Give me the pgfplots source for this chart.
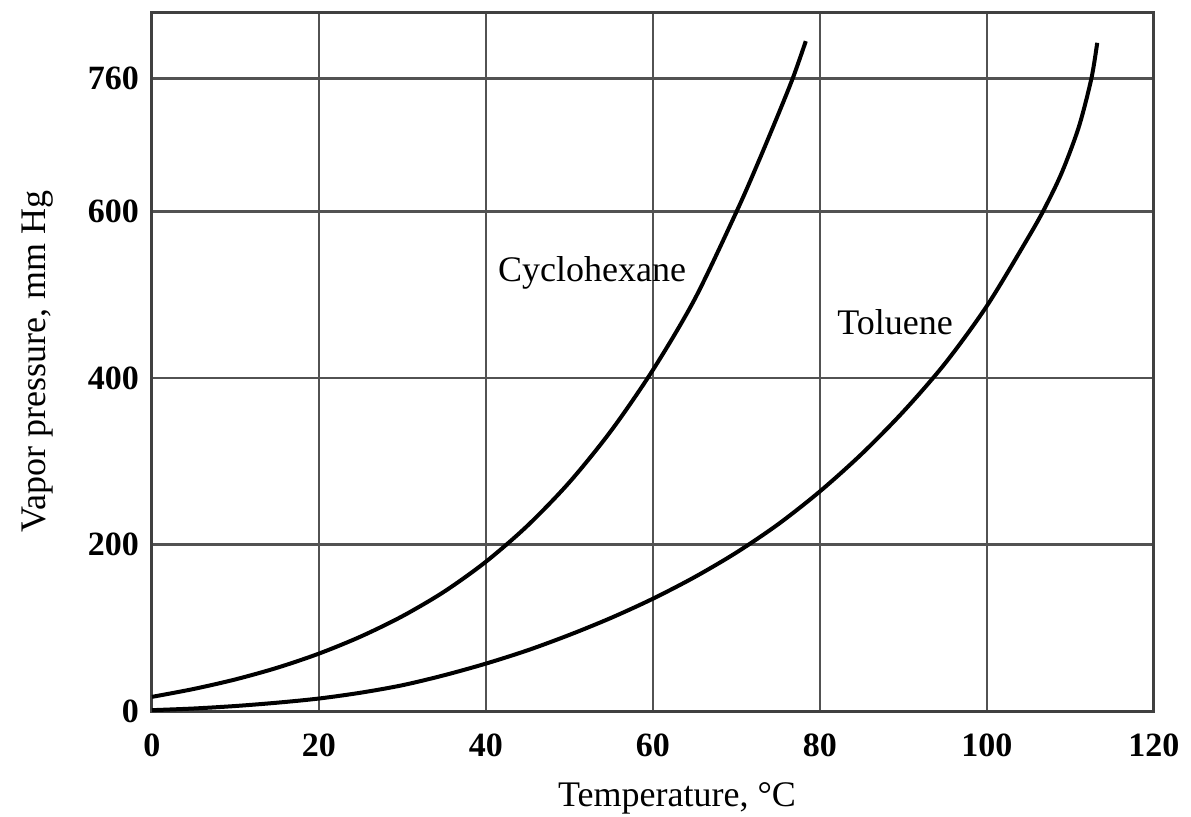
\documentclass[border=0pt]{standalone}
\usepackage{fontspec}
\setmainfont{Liberation Serif}
\usepackage{pgfplots}
\pgfplotsset{compat=1.18}
\begin{document}
\begin{tikzpicture}
\path[use as bounding box] (-76pt,-52.5pt) rectangle (519.5pt,355.5pt);
\begin{axis}[
  at={(0,0)}, anchor=south west,
  scale only axis,
  width=501pt, height=349.5pt,
  xmin=0, xmax=120, ymin=0, ymax=840,
  xtick={0,20,40,60,80,100,120},
  ytick={0,200,400,600,760},
  grid=major,
  major grid style={line width=1.3pt, color=black!68},
  axis line style={line width=1.5pt, color=black!75},
  major tick length=0pt,
  /pgf/number format/assume math mode=true,
  tick label style={font=\fontsize{17}{20}\selectfont\bfseries},
  xticklabel style={yshift=-8pt},
  yticklabel style={xshift=-3pt},
  label style={font=\fontsize{18}{21}\selectfont},
  xlabel={Temperature, °C},
  ylabel={Vapor pressure, mm Hg},
  xlabel style={at={(axis description cs:0.5,0)}, anchor=north, yshift=-32pt, xshift=12pt},
  ylabel style={at={(axis description cs:0,0.5)}, anchor=south, yshift=46pt},
  clip=false,
]
\addplot[black, line width=2pt, smooth] coordinates {
(0,17) (5,26.5) (10,38) (15,52) (20,69) (25,89.5) (30,114) (35,143.5) (40,179.5)
(45,223) (50,275) (55,337) (60,410) (65,495) (70,600) (72.5,657) (75,717)
(76.8,762) (78.3,805)
};
\addplot[black, line width=2pt, smooth] coordinates {
(0,1) (5,3) (10,6) (15,10) (20,15) (25,22) (30,31) (35,43) (40,57) (45,73)
(50,91.5) (55,112) (60,135) (65,161) (70,190.5) (75,224.5) (80,264) (85,309)
(90,360) (95,418) (100,487) (105,570) (107,606) (109,648) (111,702)
(112.5,760) (113.2,803)
};
\node[font=\fontsize{18}{21}\selectfont] at (axis cs:52.7,526) {Cyclohexane};
\node[font=\fontsize{18}{21}\selectfont] at (axis cs:89,467) {Toluene};
\end{axis}
\end{tikzpicture}
\end{document}
